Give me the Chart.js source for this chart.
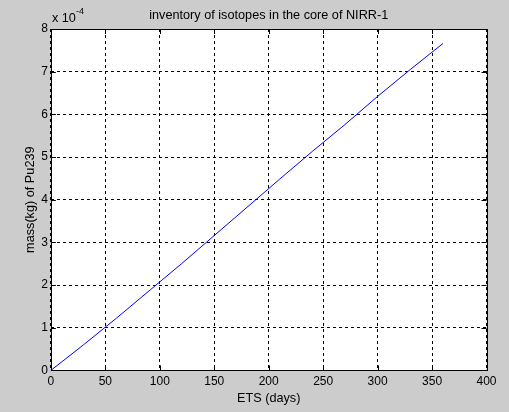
<!DOCTYPE html>
<html>
<head>
<meta charset="utf-8">
<script src="https://cdn.jsdelivr.net/npm/chart.js@4.4.1/dist/chart.umd.min.js"></script>
<style>
html,body{margin:0;padding:0;background:#cccccc;}
#wrap{width:509px;height:412px;}
</style>
</head>
<body>
<div id="wrap"><canvas id="c" width="509" height="412"></canvas></div>
<script>
// Data
const days = [0, 30, 60, 90, 120, 150, 180, 210, 240, 270, 300, 330, 360];
const massPu239 = [0, 0.60e-4, 1.22e-4, 1.86e-4, 2.50e-4, 3.16e-4, 3.82e-4, 4.48e-4, 5.13e-4, 5.76e-4, 6.42e-4, 7.05e-4, 7.66e-4];
const xTicks = [0, 50, 100, 150, 200, 250, 300, 350, 400];
const yTicks = [0, 1e-4, 2e-4, 3e-4, 4e-4, 5e-4, 6e-4, 7e-4, 8e-4];
const yExponent = -4;
const titleText = 'inventory of isotopes in the core of NIRR-1';
const xLabel = 'ETS (days)';
const yLabel = 'mass(kg) of Pu239';

const FONT = '"Liberation Sans", Arial, sans-serif';
Chart.defaults.font.family = FONT;
Chart.defaults.font.size = 12;
Chart.defaults.color = '#000';

const matlabPlugin = {
  id: 'matlab',
  beforeDraw(chart) {
    const {ctx, chartArea: a} = chart;
    ctx.save();
    ctx.fillStyle = '#cccccc';
    ctx.fillRect(0, 0, chart.width, chart.height);
    ctx.fillStyle = '#ffffff';
    ctx.fillRect(a.left, a.top, a.right - a.left, a.bottom - a.top);
    ctx.restore();
  },
  afterDraw(chart) {
    const {ctx, chartArea: a, scales} = chart;
    ctx.save();
    ctx.strokeStyle = '#000';
    ctx.lineWidth = 1;
    ctx.strokeRect(Math.round(a.left) + 0.5, Math.round(a.top) + 0.5, Math.round(a.right - a.left), Math.round(a.bottom - a.top));
    const tl = 5;
    ctx.beginPath();
    xTicks.forEach(v => {
      const px = Math.round(scales.x.getPixelForValue(v)) + 0.5;
      ctx.moveTo(px, a.bottom); ctx.lineTo(px, a.bottom - tl);
      ctx.moveTo(px, a.top); ctx.lineTo(px, a.top + tl);
    });
    yTicks.forEach(v => {
      const py = Math.round(scales.y.getPixelForValue(v)) + 0.5;
      ctx.moveTo(a.left, py); ctx.lineTo(a.left + tl, py);
      ctx.moveTo(a.right, py); ctx.lineTo(a.right - tl, py);
    });
    ctx.stroke();
    ctx.fillStyle = '#000';
    // title centred over the plot area
    ctx.font = '12.7px ' + FONT;
    ctx.textAlign = 'center';
    ctx.textBaseline = 'alphabetic';
    ctx.fillText(titleText, (a.left + a.right) / 2, a.top - 10);
    // exponent label
    ctx.textAlign = 'left';
    const ex = a.left + 1, ey = a.top - 7;
    ctx.fillText('x 10', ex, ey);
    const w = ctx.measureText('x 10').width;
    ctx.font = '9px ' + FONT;
    ctx.fillText(String(yExponent), ex + w, ey - 8.5);
    ctx.restore();
  }
};

new Chart(document.getElementById('c'), {
  type: 'line',
  data: {
    datasets: [{
      data: days.map((d, i) => ({x: d, y: massPu239[i]})),
      borderColor: '#0000ff',
      borderWidth: 1,
      pointRadius: 0,
      tension: 0,
      fill: false
    }]
  },
  options: {
    responsive: false,
    animation: false,
    layout: {padding: {left: 23, right: 22.5, top: 29, bottom: 6}},
    plugins: {
      legend: {display: false},
      tooltip: {enabled: false},
      title: {display: false}
    },
    scales: {
      x: {
        type: 'linear', min: 0, max: 400,
        afterBuildTicks(s) { s.ticks = xTicks.map(v => ({value: v})); },
        ticks: {padding: 4, maxRotation: 0, autoSkip: false, font: {size: 12}, color: '#000'},
        grid: {color: '#000', lineWidth: 1, drawTicks: false},
        border: {display: false, dash: [3, 3]},
        title: {display: true, text: xLabel, color: '#000', font: {size: 12.7}, padding: {top: -2, bottom: 0}}
      },
      y: {
        type: 'linear', min: 0, max: 8e-4,
        afterBuildTicks(s) { s.ticks = yTicks.map(v => ({value: v})); },
        ticks: {padding: 3, autoSkip: false, font: {size: 12}, color: '#000',
          callback: v => String(Math.round(v / Math.pow(10, yExponent)))},
        grid: {color: '#000', lineWidth: 1, drawTicks: false},
        border: {display: false, dash: [3, 3]},
        title: {display: true, text: yLabel, color: '#000', font: {size: 12.7}, padding: {top: 0, bottom: 0}}
      }
    }
  },
  plugins: [matlabPlugin]
});
</script>
</body>
</html>
